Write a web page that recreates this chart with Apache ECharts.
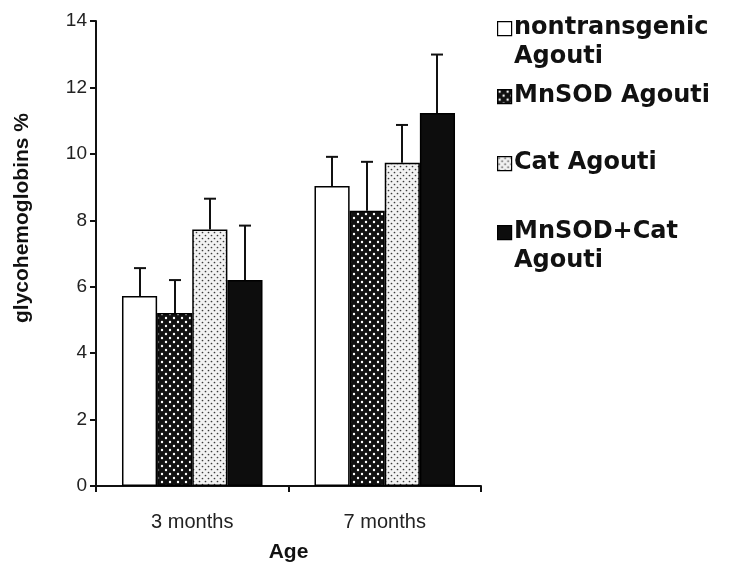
<!DOCTYPE html>
<html>
<head>
<meta charset="utf-8">
<style>
  html, body { margin: 0; padding: 0; background: #fff; }
  #chart { width: 738px; height: 573px; }
</style>
<script src="https://cdn.jsdelivr.net/npm/echarts@6/dist/echarts.min.js"></script>
</head>
<body>
<div id="chart"></div>
<script>
// Age groups on the x axis
const categories = ['3 months', '7 months'];

// Group names and how they are written in the key
const seriesNames = ['nontransgenic Agouti', 'MnSOD Agouti', 'Cat Agouti', 'MnSOD+Cat Agouti'];
const legendLabels = ['nontransgenic\nAgouti', 'MnSOD Agouti', 'Cat Agouti', 'MnSOD+Cat\nAgouti'];

// Mean glycohemoglobin % per group
const nontransgenic = [5.72, 9.03];
const mnsod = [5.21, 8.29];
const cat = [7.72, 9.73];
const mnsodCat = [6.20, 11.23];

// Upper error (SD) per group
const nontransgenicErr = [0.84, 0.88];
const mnsodErr = [0.99, 1.47];
const catErr = [0.93, 1.14];
const mnsodCatErr = [1.64, 1.76];

// Y axis ticks
const yMin = 0, yMax = 14, yStep = 2;
const yTitle = 'glycohemoglobins %';

const means = [nontransgenic, mnsod, cat, mnsodCat];
const errs = [nontransgenicErr, mnsodErr, catErr, mnsodCatErr];

// Fill patterns drawn on small canvases
function dotPattern(size, bg, dot, r, pts) {
  const c = document.createElement('canvas');
  c.width = size; c.height = size;
  const g = c.getContext('2d');
  g.fillStyle = bg; g.fillRect(0, 0, size, size);
  g.fillStyle = dot;
  pts.forEach(p => { g.beginPath(); g.arc(p[0], p[1], r, 0, Math.PI * 2); g.fill(); });
  return { image: c, repeat: 'repeat' };
}
const fills = [
  '#ffffff',
  dotPattern(8, '#111111', '#ffffff', 1.2, [[2, 2], [6, 6]]),
  dotPattern(6, '#f2f2f2', '#3a3a3a', 0.85, [[1.5, 1.5], [4.5, 4.5]]),
  '#0d0d0d'
];

const catGapRatio = 0.27;

const barSeries = seriesNames.map((name, i) => ({
  name: name,
  type: 'bar',
  data: means[i],
  barGap: '0%',
  barCategoryGap: '27%',
  itemStyle: { color: fills[i], borderColor: '#000', borderWidth: 1.5 },
  z: 2
}));

const errSeries = seriesNames.map((name, i) => ({
  name: name + ' error',
  type: 'custom',
  z: 3,
  data: means[i].map((m, k) => [k, m, m + errs[i][k]]),
  encode: { x: 0, y: [1, 2] },
  renderItem: function (params, api) {
    const band = api.size([1, 0])[0];
    const bw = band * (1 - catGapRatio) / 4;
    const off = (i - 1.5) * bw;
    const base = api.coord([api.value(0), api.value(1)]);
    const top = api.coord([api.value(0), api.value(2)]);
    const x = Math.round(base[0] + off);
    const cap = 6;
    const st = { stroke: '#111', lineWidth: 2 };
    return {
      type: 'group',
      children: [
        { type: 'line', shape: { x1: x, y1: base[1], x2: x, y2: top[1] }, style: st },
        { type: 'line', shape: { x1: x - cap, y1: top[1], x2: x + cap, y2: top[1] }, style: st }
      ]
    };
  }
}));

// Key on the right side
const keyX = 497, keyTextX = 514;
const keyCenters = [28, 96, 163, 232];
const keyGraphics = [];
seriesNames.forEach((name, i) => {
  keyGraphics.push({
    type: 'rect',
    left: keyX, top: keyCenters[i] - 7,
    shape: { width: 14, height: 14 },
    style: { fill: fills[i], stroke: '#000', lineWidth: 1.2 }
  });
  keyGraphics.push({
    type: 'text',
    x: keyTextX, y: keyCenters[i] - 15,
    style: {
      text: legendLabels[i],
      font: 'bold 24px "DejaVu Sans", sans-serif',
      fill: '#111',
      lineHeight: 29,
      verticalAlign: 'top'
    }
  });
});

// Vertical axis title
keyGraphics.push({
  type: 'text',
  x: 22, y: 218,
  rotation: Math.PI / 2,
  style: {
    text: yTitle,
    font: 'bold 21px "Liberation Sans", Arial, sans-serif',
    fill: '#111',
    align: 'center',
    verticalAlign: 'middle'
  }
});

const chart = echarts.init(document.getElementById('chart'), null, { renderer: 'canvas' });
chart.setOption({
  backgroundColor: '#ffffff',
  animation: false,
  grid: { left: 96, right: 257, top: 21, bottom: 87, containLabel: false },
  xAxis: {
    type: 'category',
    data: categories,
    name: 'Age',
    nameLocation: 'middle',
    nameGap: 56,
    nameTextStyle: { fontFamily: 'Liberation Sans, Arial, sans-serif', fontWeight: 'bold', fontSize: 21, color: '#111' },
    axisLine: { lineStyle: { color: '#111', width: 2 } },
    axisTick: { show: true, inside: false, length: 6, alignWithLabel: false, lineStyle: { color: '#111', width: 2 } },
    axisLabel: { fontFamily: 'Liberation Sans, Arial, sans-serif', fontSize: 20, color: '#222', margin: 26 },
    splitLine: { show: false }
  },
  yAxis: {
    type: 'value',
    min: yMin, max: yMax, interval: yStep,
    axisLine: { show: true, lineStyle: { color: '#111', width: 2 } },
    axisTick: { show: true, length: 6, lineStyle: { color: '#111', width: 2 } },
    axisLabel: { fontFamily: 'Liberation Sans, Arial, sans-serif', fontSize: 19, color: '#222', margin: 9 },
    splitLine: { show: false }
  },
  series: barSeries.concat(errSeries),
  graphic: keyGraphics
});
</script>
</body>
</html>
